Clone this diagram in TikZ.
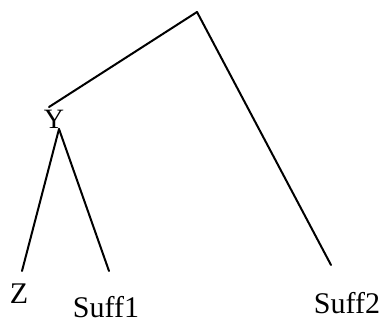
\documentclass[tikz,border=0pt]{standalone}
\usepackage{fontspec}
\setmainfont{Liberation Serif}
\usetikzlibrary{positioning}
\tikzset{
  branch/.style={line width=2pt, color=black, line cap=round},
  leaf/.style={inner sep=0pt, anchor=base, font=\fontsize{30}{31}\selectfont},
  inner/.style={inner sep=0pt, anchor=base, font=\fontsize{28}{29}\selectfont},
}
\begin{document}
\begin{tikzpicture}[x=1pt, y=-1pt]

  \useasboundingbox (0,0) rectangle (383,324);

  % tree points
  \coordinate (root) at (197,12);
  \coordinate (yTop) at (49,107);
  \coordinate (yFoot) at (59,129);
  \coordinate (zTip) at (22,271);
  \coordinate (sOneTip) at (109,271);
  \coordinate (sTwoTip) at (331,265);

  % labels
  \node[inner] (Y) at (54,128) {Y};
  \node[leaf] (Z) at (19,303) {Z};
  \node[leaf] (suff1) at (106,317) {Suff1};
  \node[leaf] (suff2) at (347,313) {Suff2};

  \draw[branch] (root) -- (yTop);
  \draw[branch] (root) -- (sTwoTip);
  \draw[branch] (yFoot) -- (zTip);
  \draw[branch] (yFoot) -- (sOneTip);

\end{tikzpicture}
\end{document}
